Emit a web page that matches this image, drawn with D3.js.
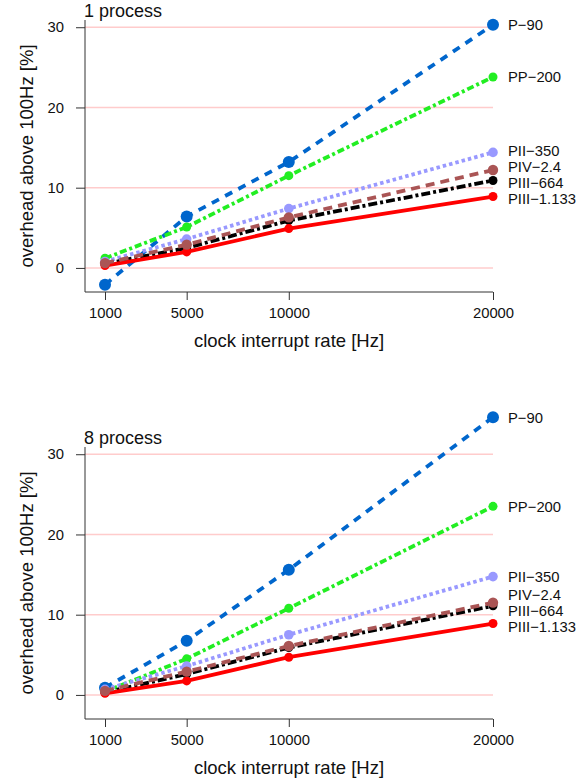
<!DOCTYPE html>
<html>
<head>
<meta charset="utf-8">
<script src="https://cdn.jsdelivr.net/npm/d3@7"></script>
<style>
  body { margin: 0; background: white; }
  svg { font-family: "Liberation Sans", Arial, Helvetica, sans-serif; }
</style>
</head>
<body>
<div id="chart"></div>
<script>
// clock interrupt rates on the x axis
const rates = [1000, 5000, 10000, 20000];
const xTicks = [1000, 5000, 10000, 20000];
const yTicks = [0, 10, 20, 30];
const cpus = ["P-90", "PP-200", "PII-350", "PIII-664", "PIII-1.133", "PIV-2.4"];

// 1 process, overhead above 100Hz [%]
const one_P90 = [-2.1, 6.4, 13.2, 30.3];
const one_PP200 = [1.2, 5.1, 11.5, 23.8];
const one_PII350 = [0.8, 3.6, 7.4, 14.4];
const one_PIII664 = [0.5, 2.5, 5.9, 10.9];
const one_PIII1133 = [0.3, 2.0, 4.9, 8.9];
const one_PIV24 = [0.6, 2.9, 6.3, 12.2];

// 8 process
const eight_P90 = [0.9, 6.75, 15.6, 34.6];
const eight_PP200 = [0.4, 4.5, 10.8, 23.5];
const eight_PII350 = [0.7, 3.6, 7.5, 14.75];
const eight_PIII664 = [0.3, 2.6, 5.9, 11.1];
const eight_PIII1133 = [0.2, 1.75, 4.7, 8.9];
const eight_PIV24 = [0.5, 2.9, 6.1, 11.5];

const styles = {
  "P-90":       {color: '#0066cc', dash: '8,7',      r: 6},
  "PP-200":     {color: '#22ee22', dash: '7,3,3,3',  r: 4.5},
  "PII-350":    {color: '#9999ff', dash: '3.5,3',    r: 4.8},
  "PIII-664":   {color: '#000000', dash: '9,3,3,3',  r: 4.5},
  "PIII-1.133": {color: '#ff0000', dash: null,       r: 4.5},
  "PIV-2.4":    {color: '#aa5555', dash: '9,6',      r: 5.2}
};

const panels = [
  {title: '1 process', top: 20,
   values: [one_P90, one_PP200, one_PII350, one_PIII664, one_PIII1133, one_PIV24]},
  {title: '8 process', top: 447,
   values: [eight_P90, eight_PP200, eight_PII350, eight_PIII664, eight_PIII1133, eight_PIV24]}
];

const width = 587, height = 780;
const left = 85, right = 493, plotH = 272;
const smallFont = 14.8, bigFont = 18.5;

const svg = d3.select('#chart').append('svg')
  .attr('width', width)
  .attr('height', height);

const x = d3.scaleLinear().domain([1000, 20000]).range([105, right]);
const y = d3.scaleLinear().domain([-3, 30.9]).range([plotH, 0]);

panels.forEach(p => {
  let g = svg.append('g').attr('transform', `translate(0,${p.top})`);

  // pink grid lines
  g.selectAll('.grid').data(yTicks).enter().append('line')
    .attr('x1', left).attr('x2', right)
    .attr('y1', d => y(d)).attr('y2', d => y(d))
    .attr('stroke', '#ffcccc').attr('stroke-width', 1.5);

  // y axis
  let ya = g.append('g').attr('transform', `translate(${left},0)`)
    .call(d3.axisLeft(y).tickValues(yTicks).tickSize(9).tickSizeOuter(0).tickPadding(12));
  ya.select('.domain').remove();
  ya.selectAll('text').attr('font-size', smallFont).attr('fill', '#111');
  ya.selectAll('line').attr('stroke', '#333');

  // x axis
  let xa = g.append('g').attr('transform', `translate(0,${plotH})`)
    .call(d3.axisBottom(x).tickValues(xTicks).tickFormat(d3.format('d')).tickSize(8).tickSizeOuter(0).tickPadding(7));
  xa.select('.domain').remove();
  xa.selectAll('text').attr('font-size', smallFont).attr('fill', '#111');
  xa.selectAll('line').attr('stroke', '#333');

  // L shaped box
  g.append('path')
    .attr('d', `M${left},0V${plotH}H${right}`)
    .attr('fill', 'none').attr('stroke', '#333').attr('stroke-width', 1);

  g.append('text').attr('x', left - 1).attr('y', -3)
    .attr('font-size', 18).attr('fill', '#111').text(p.title);

  g.append('text').attr('x', (left + right) / 2).attr('y', plotH + 55)
    .attr('text-anchor', 'middle').attr('font-size', bigFont).attr('fill', '#111')
    .text('clock interrupt rate [Hz]');

  g.append('text')
    .attr('transform', `translate(33,${plotH / 2}) rotate(-90)`)
    .attr('text-anchor', 'middle').attr('font-size', bigFont).attr('fill', '#111')
    .text('overhead above 100Hz [%]');

  let line = d3.line().x((d, i) => x(rates[i])).y(d => y(d));

  cpus.forEach((name, k) => {
    let s = styles[name];
    let vals = p.values[k];
    g.append('path').datum(vals)
      .attr('d', line)
      .attr('fill', 'none')
      .attr('stroke', s.color)
      .attr('stroke-width', 3.8)
      .attr('stroke-dasharray', s.dash);
    g.selectAll(null).data(vals).enter().append('circle')
      .attr('cx', (d, i) => x(rates[i]))
      .attr('cy', d => y(d))
      .attr('r', s.r)
      .attr('fill', s.color);
  });

  // labels at the right end, pushed apart so they do not overlap
  let labs = cpus.map((name, k) => ({name, pos: y(p.values[k][rates.length - 1])}));
  labs.sort((a, b) => a.pos - b.pos);
  let gap = 16;
  for (let it = 0; it < 200; it++) {
    for (let i = 1; i < labs.length; i++) {
      let d = labs[i].pos - labs[i - 1].pos;
      if (d < gap) {
        let m = (gap - d) / 2;
        labs[i].pos += m;
        labs[i - 1].pos -= m;
      }
    }
  }
  g.selectAll('.lab').data(labs).enter().append('text')
    .attr('x', right + 15)
    .attr('y', d => d.pos)
    .attr('dy', '0.35em')
    .attr('font-size', smallFont)
    .attr('fill', '#111')
    .text(d => d.name.replace('-', '\u2212'));
});
</script>
</body>
</html>
